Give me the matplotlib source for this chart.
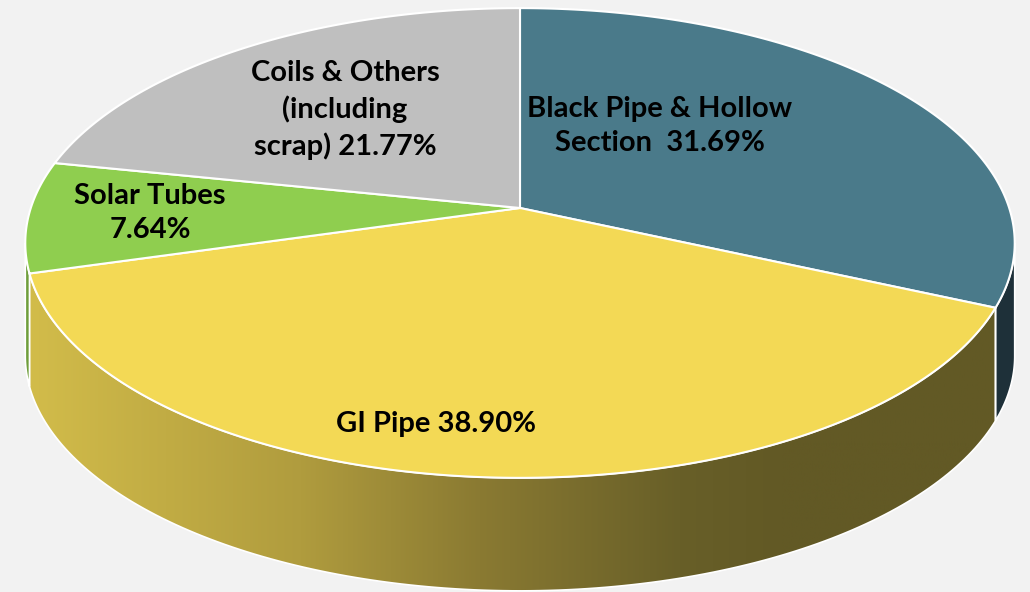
import numpy as np
import matplotlib.pyplot as plt
from matplotlib.patches import Polygon

# data
labels = ["Black Pipe & Hollow\nSection  31.69%", "GI Pipe 38.90%",
          "Solar Tubes\n7.64%", "Coils & Others\n(including\nscrap) 21.77%"]
shares = [31.69, 38.90, 7.64, 21.77]

top_colors = ["#4a7a8a", "#f3d955", "#8fce4f", "#bfbfbf"]
side_colors = ["#1e3039", None, "#6f9e3c", "#7a7a7a"]  # None -> gradient

# view / projection parameters (pixel space)
W, H = 1030, 592
cx, cy = 520, 208
phi = np.radians(28)
s, c = np.sin(phi), np.cos(phi)
D = 6.714 * c
k = 2900
depth_px = 113  # wall height in pixels


def project(theta):
    X = np.cos(theta)
    Z = np.sin(theta)
    zc = D + Z * c
    return cx + k * X / zc, cy - k * Z * s / zc


fig = plt.figure(figsize=(W / 100, H / 100), dpi=100)
fig.patch.set_facecolor("#f2f2f2")
ax = fig.add_axes([0, 0, 1, 1])
ax.set_xlim(0, W)
ax.set_ylim(H, 0)
ax.axis("off")

bounds = 90 - np.cumsum([0] + shares) * 3.6  # clockwise from 12 o'clock

# walls are visible between the leftmost and rightmost points of the rim
lim = np.degrees(np.arcsin(c / D))
vis_lo, vis_hi = -180 + lim, -lim

# gradient for the GI wall
xs = np.linspace(0, W, 400)
stops_x = [0, 30, 300, 480, 680, 780, W]
stops = np.array([[212, 190, 76], [210, 188, 74], [176, 156, 62],
                  [138, 122, 50], [104, 95, 40], [98, 89, 37], [98, 89, 37]]) / 255
grad = np.stack([np.interp(xs, stops_x, stops[:, i]) for i in range(3)], axis=-1)
grad = np.repeat(grad[None, :, :], 2, axis=0)

# walls
for i in range(len(shares)):
    a_start, a_end = bounds[i], bounds[i + 1]
    lo, hi = max(a_end, vis_lo), min(a_start, vis_hi)
    if hi <= lo:
        continue
    th = np.radians(np.linspace(lo, hi, 150))
    tx, ty = project(th)
    pts = np.column_stack([np.r_[tx, tx[::-1]], np.r_[ty, ty[::-1] + depth_px]])
    if side_colors[i] is None:
        poly = Polygon(pts, closed=True, facecolor="none", edgecolor="white", lw=1.2, zorder=2)
        ax.add_patch(poly)
        im = ax.imshow(grad, extent=(0, W, H, 0), aspect="auto", zorder=1)
        im.set_clip_path(poly)
    else:
        ax.add_patch(Polygon(pts, closed=True, facecolor=side_colors[i],
                             edgecolor="white", lw=1.2, zorder=2))

# top faces
for i in range(len(shares)):
    th = np.radians(np.linspace(bounds[i], bounds[i + 1], 200))
    px, py = project(th)
    pts = np.column_stack([np.r_[cx, px], np.r_[cy, py]])
    ax.add_patch(Polygon(pts, closed=True, facecolor=top_colors[i],
                         edgecolor="white", lw=1.5, zorder=3))

# labels
font = dict(family=["Lato", "DejaVu Sans"], fontsize=21, fontweight="bold",
            ha="center", va="center", linespacing=1.4, zorder=5)
ax.text(660, 126, labels[0], **font)
ax.text(436, 424, labels[1], **font)
ax.text(150, 213, labels[2], **font)
ax.text(345, 110, labels[3], **font)

fig.savefig("out.png", dpi=100, facecolor=fig.get_facecolor())
